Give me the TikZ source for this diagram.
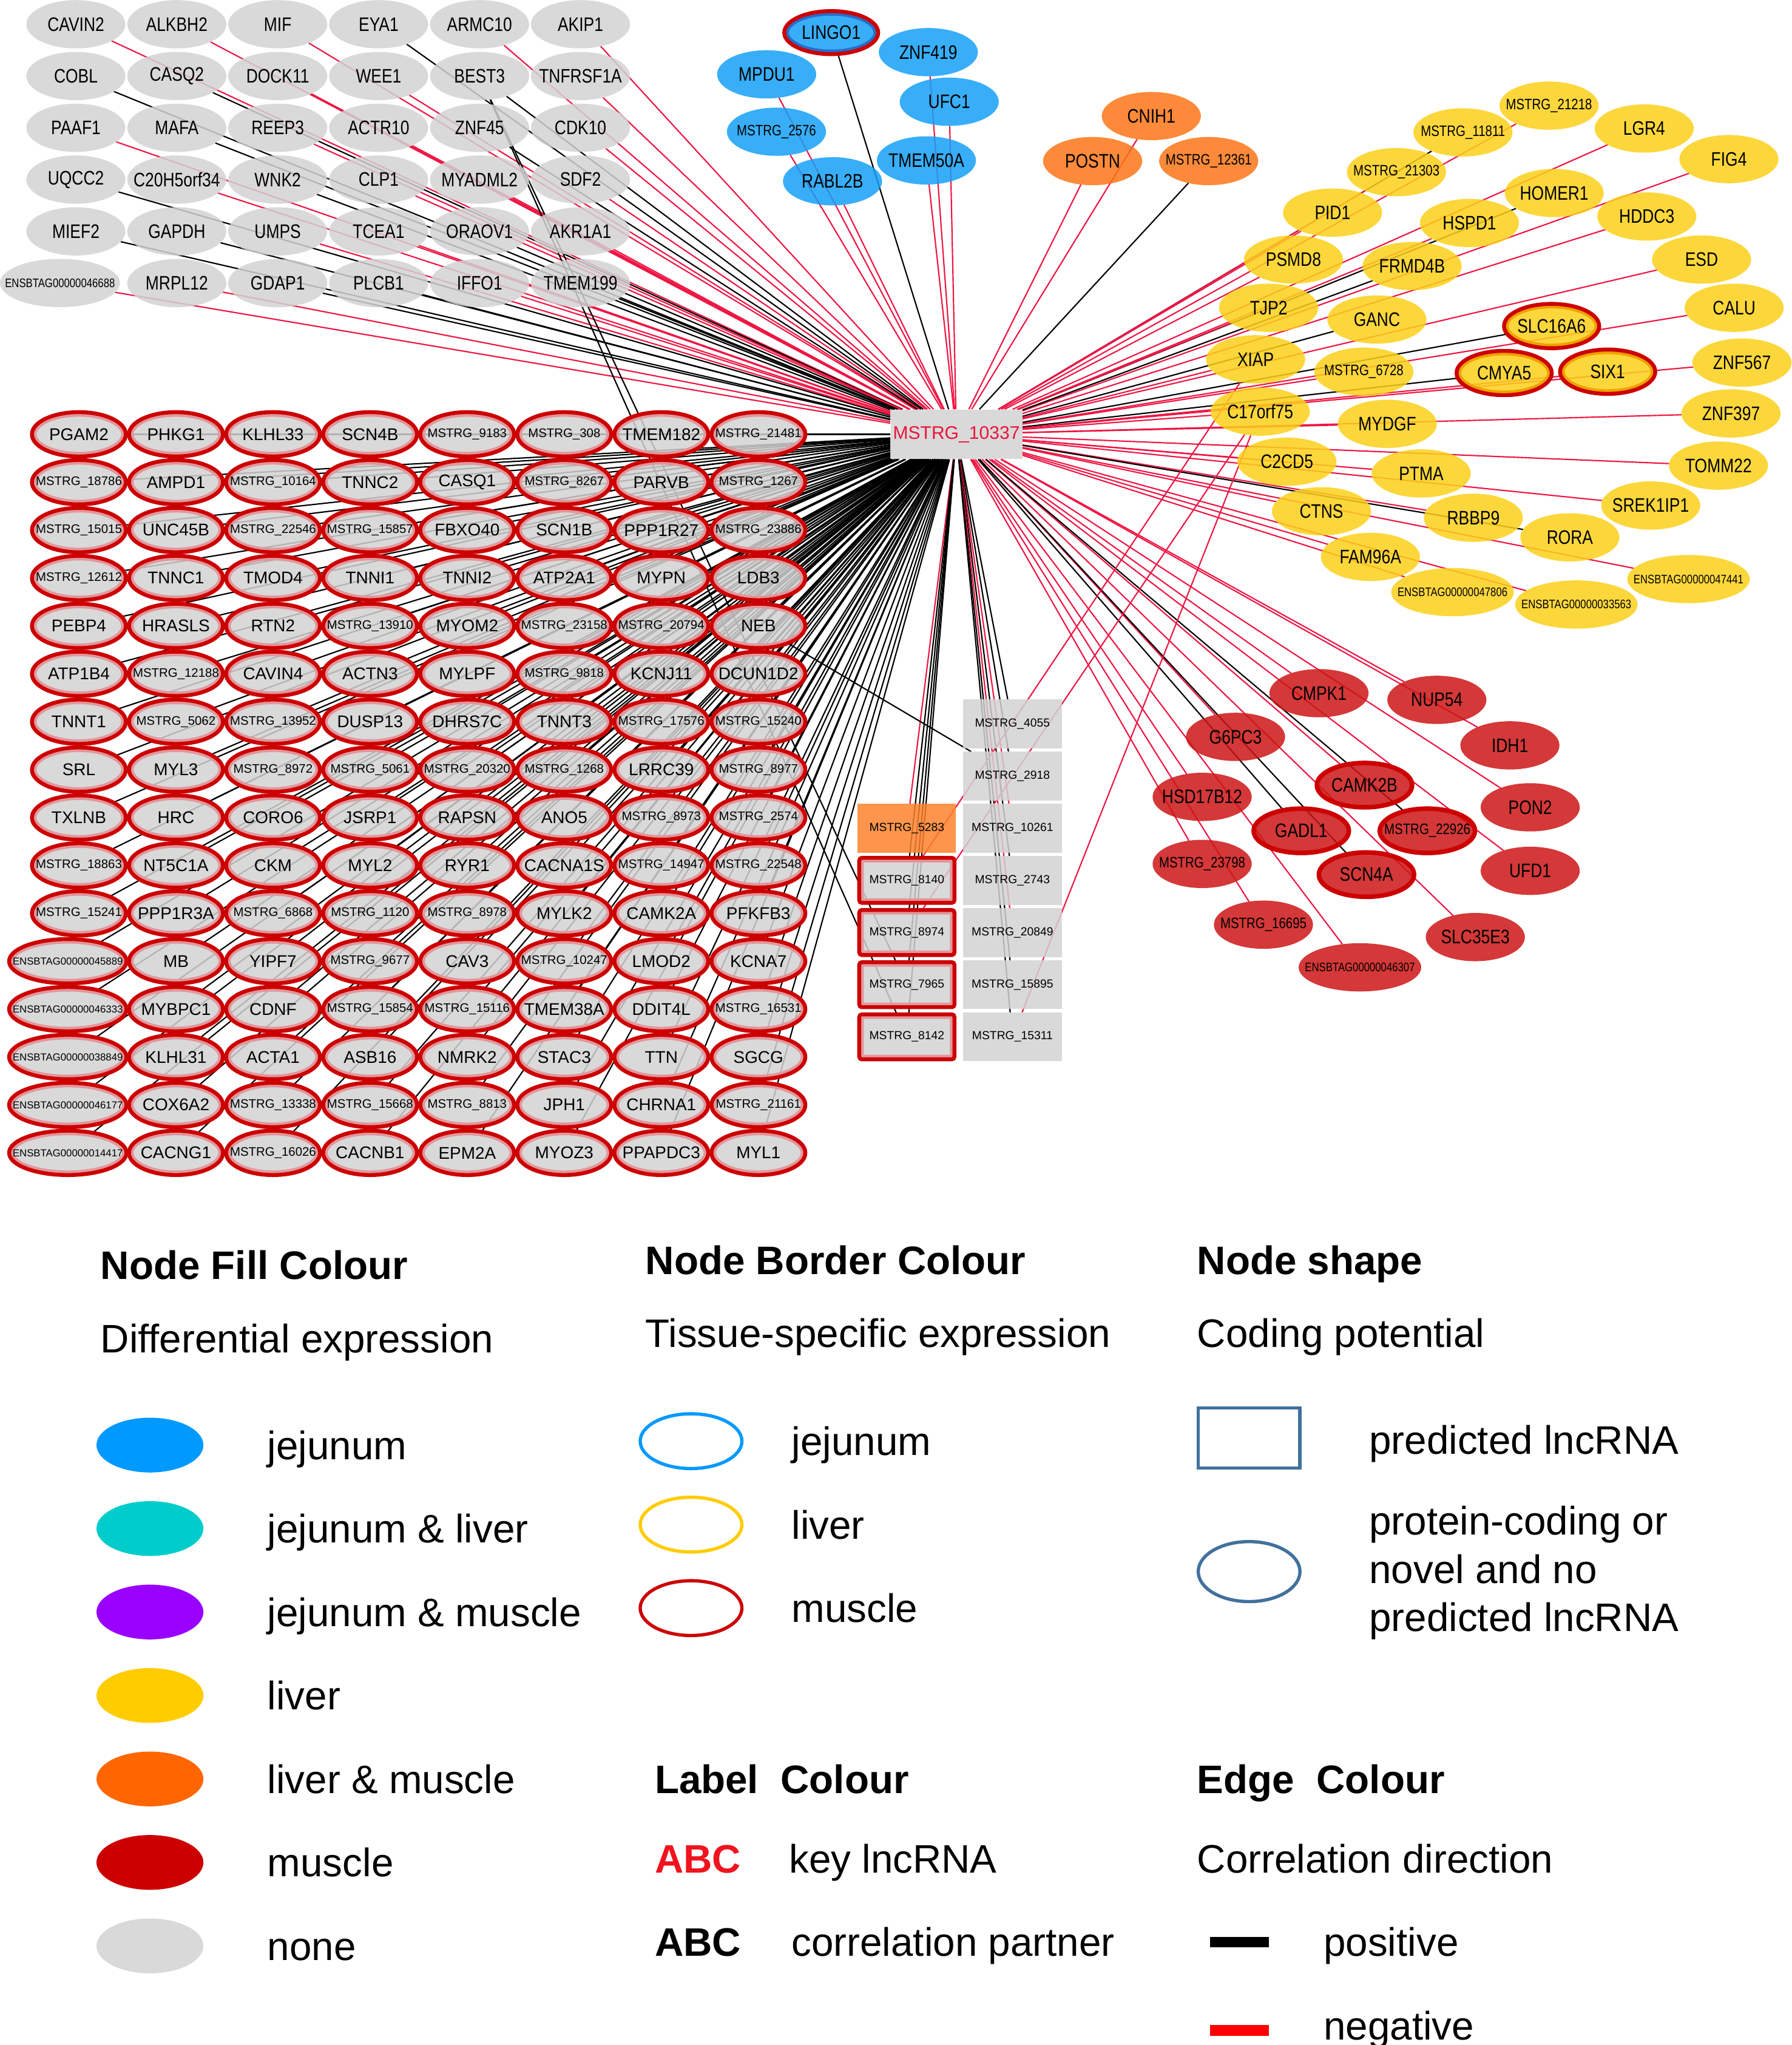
\documentclass[tikz,border=0pt]{standalone}
\usepackage{fontspec}
\setmainfont{Liberation Sans}
\newfontfamily\narrowfont[FakeStretch=0.82]{Liberation Sans}
\usetikzlibrary{shapes.geometric,backgrounds}

\definecolor{gfill}{RGB}{210,210,210}
\definecolor{bfill}{RGB}{21,160,247}
\definecolor{yfill}{RGB}{252,208,26}
\definecolor{ofill}{RGB}{253,117,23}
\definecolor{rfill}{RGB}{204,21,21}
\definecolor{sqgrey}{RGB}{210,210,210}
\definecolor{sqorange}{RGB}{253,130,45}
\definecolor{mred}{RGB}{204,0,0}
\definecolor{pinkring}{RGB}{226,150,155}
\definecolor{orring}{RGB}{240,160,0}
\definecolor{bluering}{RGB}{40,110,200}
\definecolor{eR}{RGB}{238,22,68}
\definecolor{eK}{RGB}{0,0,0}
\definecolor{hubred}{RGB}{235,20,60}
\definecolor{lgblue}{RGB}{0,153,255}
\definecolor{lgteal}{RGB}{0,204,204}
\definecolor{lgpurple}{RGB}{153,0,255}
\definecolor{lgyellow}{RGB}{255,204,0}
\definecolor{lgorange}{RGB}{255,102,0}
\definecolor{lgred}{RGB}{204,0,0}
\definecolor{lggrey}{RGB}{217,217,217}
\definecolor{shapeblue}{RGB}{65,113,156}
\definecolor{abcred}{RGB}{240,20,30}

\newcommand\msz{}
\newcommand\esz{}
\newcommand\Ms[1]{{\msz MSTRG\_#1}}
\newcommand\En[1]{{\esz ENSBTAG#1}}
\newcommand\mk[1]{\makebox[0pt]{#1}}
\newcommand\nfont{\narrowfont\fontsize{15}{15}\selectfont\def\msz{\fontsize{11.6}{12}\selectfont}\def\esz{\fontsize{9.5}{10}\selectfont}}
\newcommand\gfont{\fontsize{13}{13}\selectfont\def\msz{\fontsize{9.5}{10}\selectfont}\def\esz{\fontsize{7.8}{8}\selectfont}}
\newcommand\sqfont{\fontsize{9}{9}\selectfont\def\msz{}}
\newcommand\lgfont{\fontsize{30.5}{37}\selectfont}
\newcommand\hubedge[2]{\begin{pgfonlayer}{background}\draw[draw=#1, line width=1] (hub) -- (#2);\end{pgfonlayer}}

\tikzset{
  nd/.style={ellipse, inner sep=0pt, outer sep=0pt, minimum width=76, minimum height=37,
    fill opacity=0.85, text opacity=1, draw opacity=1},
  greyn/.style={nd, fill=gfill, font=\nfont},
  bluen/.style={nd, fill=bfill, font=\nfont},
  orn/.style={nd, fill=ofill, font=\nfont},
  yeln/.style={nd, fill=yfill, font=\nfont},
  redn/.style={nd, fill=rfill, font=\nfont},
  ringed/.style n args={4}{draw=#1, line width=3, minimum width=#3, minimum height=#4,
    path picture={\draw[#2, line width=7] (path picture bounding box.center) ellipse [x radius=#3/2, y radius=#4/2];}},
  gridn/.style={nd, fill=gfill, font=\gfont, ringed={mred}{pinkring}{#1}{34}},
  gridn/.default=72,
  thickr/.style={draw=mred, line width=3.5, minimum width=73, minimum height=34},
  sqbox/.style={rectangle, inner sep=0pt, outer sep=0pt, minimum width=75.5, minimum height=37.5,
    font=\sqfont, fill opacity=0.85, text opacity=1},
  sqg/.style={sqbox, fill=sqgrey},
  sqo/.style={sqbox, fill=sqorange},
  sqr/.style={sqbox, fill=sqgrey, draw=mred, line width=3, rounded corners=2, minimum width=73, minimum height=34.5,
    path picture={\draw[pinkring, line width=7] (path picture bounding box.south west) rectangle (path picture bounding box.north east);}},
  lg/.style={anchor=west, inner sep=0pt, font=\lgfont, text height=22, text depth=0},
  lgb/.style={lg, font=\lgfont\bfseries},
  lgm/.style={anchor=west, inner sep=0pt, font=\lgfont, align=left},
  lgell/.style={ellipse, inner sep=0pt, minimum width=82, minimum height=42},
  lgring/.style={ellipse, inner sep=0pt, minimum width=78, minimum height=42, line width=2.5, fill=white},
  ek/.style={draw=eK, line width=1},
  er/.style={draw=eR, line width=1}
}

\begin{document}
\begin{tikzpicture}[x=1pt, y=-1pt]
\useasboundingbox (0,0) rectangle (1374,1568);

% key lncRNA hub
\node[rectangle, fill=lggrey, minimum width=101, minimum height=38, inner sep=0pt,
  font=\fontsize{14}{14}\selectfont, text=hubred] (hub) at (733.5,333) {MSTRG\_10337};

% ---------- top-left grey block ----------
\foreach \lab/\ec [count=\i from 0] in {CAVIN2/eR, ALKBH2/eR, MIF/eR, EYA1/eK, ARMC10/eR, AKIP1/eR,
  COBL/eK, CASQ2/eK, DOCK11/eR, WEE1/eR, BEST3/eK, TNFRSF1A/eR,
  PAAF1/eR, MAFA/eK, REEP3/eR, ACTR10/eR, ZNF45/eK, CDK10/eR,
  UQCC2/eK, C20H5orf34/eR, WNK2/eK, CLP1/eR, MYADML2/eR, SDF2/eR,
  MIEF2/eK, GAPDH/eK, UMPS/eR, TCEA1/eR, ORAOV1/eK, AKR1A1/eR,
  \En{00000046688}/eR, MRPL12/eR, GDAP1/eK, PLCB1/eK, IFFO1/eR, TMEM199/eK}{
  \pgfmathtruncatemacro\row{int(\i/6)}
  \pgfmathtruncatemacro\col{mod(\i,6)}
  \ifnum\i=30
    \node[greyn, minimum width=92] (t\i) at (46,217) {\mk{\lab}};
  \else
    \node[greyn] (t\i) at ({58.2+77.4*\col},{18.6+39.7*\row}) {\mk{\lab}};
  \fi
  \hubedge{\ec}{t\i}
}

% ---------- muscle-specific grid ----------
\foreach \lab [count=\i from 0] in {
  PGAM2, PHKG1, KLHL33, SCN4B, \Ms{9183}, \Ms{308}, TMEM182, \Ms{21481},
  \Ms{18786}, AMPD1, \Ms{10164}, TNNC2, CASQ1, \Ms{8267}, PARVB, \Ms{1267},
  \Ms{15015}, UNC45B, \Ms{22546}, \Ms{15857}, FBXO40, SCN1B, PPP1R27, \Ms{23886},
  \Ms{12612}, TNNC1, TMOD4, TNNI1, TNNI2, ATP2A1, MYPN, LDB3,
  PEBP4, HRASLS, RTN2, \Ms{13910}, MYOM2, \Ms{23158}, \Ms{20794}, NEB,
  ATP1B4, \Ms{12188}, CAVIN4, ACTN3, MYLPF, \Ms{9818}, KCNJ11, DCUN1D2,
  TNNT1, \Ms{5062}, \Ms{13952}, DUSP13, DHRS7C, TNNT3, \Ms{17576}, \Ms{15240},
  SRL, MYL3, \Ms{8972}, \Ms{5061}, \Ms{20320}, \Ms{1268}, LRRC39, \Ms{8977},
  TXLNB, HRC, CORO6, JSRP1, RAPSN, ANO5, \Ms{8973}, \Ms{2574},
  \Ms{18863}, NT5C1A, CKM, MYL2, RYR1, CACNA1S, \Ms{14947}, \Ms{22548},
  \Ms{15241}, PPP1R3A, \Ms{6868}, \Ms{1120}, \Ms{8978}, MYLK2, CAMK2A, PFKFB3,
  \En{00000045889}, MB, YIPF7, \Ms{9677}, CAV3, \Ms{10247}, LMOD2, KCNA7,
  \En{00000046333}, MYBPC1, CDNF, \Ms{15854}, \Ms{15116}, TMEM38A, DDIT4L, \Ms{16531},
  \En{00000038849}, KLHL31, ACTA1, ASB16, NMRK2, STAC3, TTN, SGCG,
  \En{00000046177}, COX6A2, \Ms{13338}, \Ms{15668}, \Ms{8813}, JPH1, CHRNA1, \Ms{21161},
  \En{00000014417}, CACNG1, \Ms{16026}, CACNB1, EPM2A, MYOZ3, PPAPDC3, MYL1}{
  \pgfmathtruncatemacro\row{int(\i/8)}
  \pgfmathtruncatemacro\col{mod(\i,8)}
  \pgfmathtruncatemacro\wide{(\col==0 && \row>10) ? 1 : 0}
  \ifnum\wide=1
    \node[gridn=90] (m\i) at (52,{333+36.73*\row}) {\mk{\lab}};
  \else
    \node[gridn] (m\i) at ({60.5+74.45*\col},{333+36.73*\row}) {\mk{\lab}};
  \fi
  \hubedge{eK}{m\i}
}

% ---------- jejunum (blue) ----------
\node[bluen, ringed={mred}{bluering}{72}{33}] (bl1) at (637.5,25) {\mk{LINGO1}};
\hubedge{eK}{bl1}
\foreach \nm/\x/\y/\lab/\ec in {bl2/588/57/MPDU1/eR, bl3/712/40/ZNF419/eR, bl4/728/78/UFC1/eR,
  bl5/595.5/101/\Ms{2576}/eR, bl6/710.5/123/TMEM50A/eR, bl7/638.5/139/RABL2B/eR}{
  \node[bluen] (\nm) at (\x,\y) {\mk{\lab}};
  \hubedge{\ec}{\nm}
}

% ---------- liver & muscle (orange) ----------
\foreach \nm/\x/\y/\lab/\ec in {or1/883/89/CNIH1/eR, or2/838/123.5/POSTN/eR, or3/927/123.5/\Ms{12361}/eK}{
  \node[orn] (\nm) at (\x,\y) {\mk{\lab}};
  \hubedge{\ec}{\nm}
}

% ---------- liver (yellow) ----------
\foreach \nm/\x/\y/\lab/\ec in {
  y1/1188/81/\Ms{21218}/eR, y2/1122/101.5/\Ms{11811}/eK, y3/1261/98.5/LGR4/eR,
  y4/1326/122/FIG4/eR, y5/1071/132/\Ms{21303}/eR, y6/1192/148/HOMER1/eK,
  y7/1022/163/PID1/eR, y8/1127/171/HSPD1/eR, y9/1263/166/HDDC3/eR,
  y10/992/199/PSMD8/eR, y11/1083/204/FRMD4B/eK, y12/1305/199/ESD/eR,
  y13/973/236/TJP2/eR, y14/1056/245/GANC/eK, y15/1330/236/CALU/eR,
  yX/963/275.5/XIAP/eR, y17/1046/285/\Ms{6728}/eR, y18/1336/278/ZNF567/eR,
  yC/966.5/315.6/C17orf75/eR, y20/1064/325/MYDGF/eR, y21/1327.6/317/ZNF397/eR,
  y22/987/354/C2CD5/eR, y23/1090/363/PTMA/eR, y24/1318/357/TOMM22/eR,
  y25/1266/387.6/SREK1IP1/eR, y26/1013.5/392/CTNS/eR, y27/1130/397/RBBP9/eR,
  y28/1204/412/RORA/eK, y29/1051/427/FAM96A/eR}{
  \node[yeln] (\nm) at (\x,\y) {\mk{\lab}};
  \hubedge{\ec}{\nm}
}
\foreach \nm/\x/\y/\lab/\ec in {y30/1295/444/\En{00000047441}/eR,
  y31/1114/454/\En{00000047806}/eR, y32/1209/463.5/\En{00000033563}/eR}{
  \node[yeln, minimum width=94] (\nm) at (\x,\y) {\mk{\lab}};
  \hubedge{\ec}{\nm}
}
\foreach \nm/\x/\y/\lab/\ec in {yS/1190/250/SLC16A6/eK, yM/1153.6/286/CMYA5/eK, yI/1233/285/SIX1/eR}{
  \node[yeln, ringed={mred}{orring}{73}{34}] (\nm) at (\x,\y) {\mk{\lab}};
  \hubedge{\ec}{\nm}
}

% ---------- muscle (red) ----------
\foreach \nm/\x/\y/\lab/\ec in {
  r1/1011.6/531.5/CMPK1/eR, r2/1102/536.6/NUP54/eR, r3/947.6/565/G6PC3/eR,
  r4/1158/571.5/IDH1/eR, r6/922/611/HSD17B12/eR, r7/1173.6/619/PON2/eR,
  r11/922/662.4/\Ms{23798}/eR, r12/1173.6/667.7/UFD1/eR, r13/969/709/\Ms{16695}/eR,
  r14/1131.5/718.5/SLC35E3/eR}{
  \node[redn] (\nm) at (\x,\y) {\mk{\lab}};
  \hubedge{\ec}{\nm}
}
\node[redn, minimum width=94] (r15) at (1043,741.7) {\mk{\En{00000046307}}};
\hubedge{eR}{r15}
\foreach \nm/\x/\y/\lab/\ec in {r5/1046.5/602/CAMK2B/eR, r8/998/637/GADL1/eK,
  r9/1094.7/637/\Ms{22926}/eK, r10/1048/670.6/SCN4A/eK}{
  \node[redn, thickr] (\nm) at (\x,\y) {\mk{\lab}};
  \hubedge{\ec}{\nm}
}

% ---------- predicted lncRNAs (squares) ----------
\foreach \nm/\y/\lab/\ec in {s4055/555/4055/eK, s2918/595/2918/eK, s10261/635/10261/eR,
  s2743/675/2743/eK, s20849/715/20849/eR, s15895/755/15895/eK, s15311/795/15311/eK}{
  \node[sqg] (\nm) at (776.5,\y) {\Ms{\lab}};
  \hubedge{\ec}{\nm}
}
\node[sqo] (s5283) at (695.5,635) {\Ms{5283}};
\hubedge{eR}{s5283}
\foreach \nm/\y/\lab in {s8140/675/8140, s8974/715/8974, s7965/755/7965, s8142/795/8142}{
  \node[sqr] (\nm) at (695.5,\y) {\Ms{\lab}};
  \hubedge{eK}{\nm}
}

% further correlation edges
\begin{pgfonlayer}{background}
  \draw[ek] (t10) -- (s8142);
  \draw[ek] (t10) -- (s7965);
  \draw[ek] (m39) -- (s2918);
  \draw[er] (yC) -- (s15311);
  \draw[er] (yC) -- (s8974);
  \draw[er] (yX) -- (s8140);
\end{pgfonlayer}

% ---------- legend: fill colour ----------
\node[lgb] (lh1) at (77,970) {Node Fill Colour};
\node[lg] (ls1) at (77,1026) {Differential expression};
\foreach \c/\t/\y [count=\k] in {lgblue/jejunum/1108, lgteal/jejunum \& liver/1172,
  lgpurple/jejunum \& muscle/1236, lgyellow/liver/1300, lgorange/liver \& muscle/1364,
  lgred/muscle/1428, lggrey/none/1492}{
  \node[lgell, fill=\c] (fe\k) at (115,\y) {};
  \node[lg] (ft\k) at (205,\y) {\t};
}

% ---------- legend: border colour ----------
\node[lgb] (lh2) at (495,966) {Node Border Colour};
\node[lg] (ls2) at (495,1022) {Tissue-specific expression};
\foreach \c/\t/\y [count=\k] in {lgblue/jejunum/1105, lgyellow/liver/1169, lgred/muscle/1233}{
  \node[lgring, draw=\c] (be\k) at (530,\y) {};
  \node[lg] (bt\k) at (607,\y) {\t};
}

% ---------- legend: shape ----------
\node[lgb] (lh3) at (918,966) {Node shape};
\node[lg] (ls3) at (918,1022) {Coding potential};
\node[rectangle, draw=shapeblue, line width=2.5, minimum width=78, minimum height=46, inner sep=0pt] (se1) at (958,1102.5) {};
\node[lg] (st1) at (1050,1104) {predicted lncRNA};
\node[ellipse, draw=shapeblue, line width=2.5, minimum width=78, minimum height=46, inner sep=0pt] (se2) at (958,1205) {};
\node[lgm] (st2) at (1050,1206) {protein-coding or\\novel and no\\predicted lncRNA};

% ---------- legend: label colour ----------
\node[lgb] (lh4) at (502,1364) {Label\ \ Colour};
\node[lgb, text=abcred] (la1) at (502,1425) {ABC};
\node[lg] (lt1) at (605,1425) {key lncRNA};
\node[lgb] (la2) at (502,1489) {ABC};
\node[lg] (lt2) at (607,1489) {correlation partner};

% ---------- legend: edge colour ----------
\node[lgb] (lh5) at (918,1364) {Edge\ \ Colour};
\node[lg] (ls5) at (918,1425) {Correlation direction};
\fill[black] (928,1485) rectangle (973,1493);
\node[lg] (et1) at (1015,1489) {positive};
\fill[red] (928,1552.5) rectangle (973,1561);
\node[lg] (et2) at (1015,1553) {negative};
\end{tikzpicture}
\end{document}
